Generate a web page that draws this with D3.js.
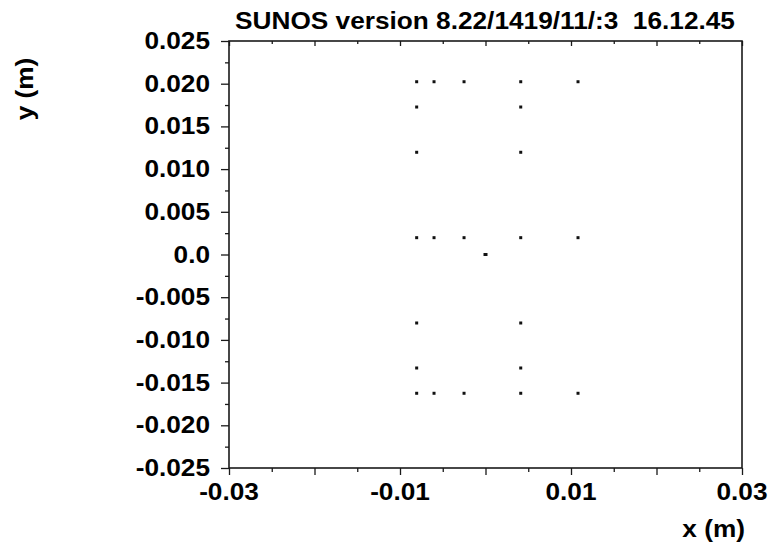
<!DOCTYPE html>
<html>
<head>
<meta charset="utf-8">
<script src="https://cdn.jsdelivr.net/npm/d3@7"></script>
<style>
  html, body { margin: 0; padding: 0; background: #fff; }
  svg text { font-family: "Liberation Sans", Arial, Helvetica, sans-serif; font-weight: bold; fill: #000; white-space: pre; }
</style>
</head>
<body>
<svg id="chart" width="770" height="544"></svg>
<script>
// Hit positions (m)
const xs = [-0.00805, -0.00602, -0.00251, 0.00412, 0.01082,
            -0.00805, 0.00412,
            -0.00805, 0.00412,
            -0.00805, -0.00602, -0.00251, 0.00412, 0.01082,
            0.0,
            -0.00805, 0.00412,
            -0.00805, 0.00412,
            -0.00805, -0.00602, -0.00251, 0.00412, 0.01082];
const ys = [0.02023, 0.02023, 0.02023, 0.02023, 0.02023,
            0.01727, 0.01727,
            0.01197, 0.01197,
            0.00197, 0.00197, 0.00197, 0.00197, 0.00197,
            0.0,
            -0.00802, -0.00802,
            -0.01329, -0.01329,
            -0.01625, -0.01625, -0.01625, -0.01625, -0.01625];
// the origin hit is drawn slightly larger
const sizes = [1,1,1,1,1, 1,1, 1,1, 1,1,1,1,1, 2, 1,1, 1,1, 1,1,1,1,1];

const xDomain = [-0.03, 0.03];
const yDomain = [-0.025, 0.025];
const xLabelTicks = [-0.03, -0.01, 0.01, 0.03];
const xLabelText = ["-0.03", "-0.01", "0.01", "0.03"];
const xMajorTicks = [-0.03, -0.02, -0.01, 0, 0.01, 0.02, 0.03];
const xMinorTicks = [-0.025, -0.015, -0.005, 0.005, 0.015, 0.025];
const yLabelTicks = [0.025, 0.02, 0.015, 0.01, 0.005, 0, -0.005, -0.01, -0.015, -0.02, -0.025];
const yLabelText = ["0.025","0.020","0.015","0.010","0.005","0.0","-0.005","-0.010","-0.015","-0.020","-0.025"];
const yMinorTicks = [0.0225, 0.0175, 0.0125, 0.0075, 0.0025, -0.0025, -0.0075, -0.0125, -0.0175, -0.0225];

const titleText = "SUNOS version 8.22/1419/11/:3  16.12.45";
const xTitle = "x (m)";
const yTitle = "y (m)";

const L = 229, R = 742, T = 41, B = 468;
const FS = 23;          // label font size
const WIDEN = 1.14;     // horizontal stretch of the lettering

const svg = d3.select("#chart");
const x = d3.scaleLinear().domain(xDomain).range([L, R]);
const y = d3.scaleLinear().domain(yDomain).range([B, T]);

const ink = "#1a1a1a";
const noDomain = g => g.select(".domain").remove();
const inkLines = g => g.selectAll("line").attr("stroke", ink).attr("stroke-width", 1.3);

// stretched bold label anchored at (px, py)
function label(parent, px, py, text, anchor, rotate) {
  return parent.append("text")
    .attr("transform", `translate(${px},${py})` + (rotate ? ` rotate(${rotate})` : "") + ` scale(${WIDEN},1)`)
    .attr("text-anchor", anchor)
    .style("font-size", FS + "px")
    .text(text);
}

// bottom axis: major and minor marks hanging below the frame
const bottomAxis = svg.append("g").attr("transform", `translate(0,${B})`);
bottomAxis.call(d3.axisBottom(x).tickValues(xMajorTicks).tickSize(7).tickFormat(""))
  .call(noDomain).call(inkLines);
bottomAxis.append("g").call(d3.axisBottom(x).tickValues(xMinorTicks).tickSize(4).tickFormat(""))
  .call(noDomain).call(inkLines);
xLabelTicks.forEach((d, i) => label(svg, x(d), 500, xLabelText[i], "middle"));

// top axis: small marks hanging inside the frame
const topAxis = svg.append("g").attr("transform", `translate(0,${T})`);
topAxis.call(d3.axisBottom(x).tickValues(xMajorTicks).tickSize(5).tickFormat(""))
  .call(noDomain).call(inkLines);
topAxis.append("g").call(d3.axisBottom(x).tickValues(xMinorTicks).tickSize(3).tickFormat(""))
  .call(noDomain).call(inkLines);

// left axis
const leftAxis = svg.append("g").attr("transform", `translate(${L},0)`);
leftAxis.call(d3.axisLeft(y).tickValues(yLabelTicks).tickSize(8).tickFormat(""))
  .call(noDomain).call(inkLines);
leftAxis.append("g").call(d3.axisLeft(y).tickValues(yMinorTicks).tickSize(4).tickFormat(""))
  .call(noDomain).call(inkLines);
yLabelTicks.forEach((d, i) => label(svg, 210, y(d) + 8, yLabelText[i], "end"));

// frame
svg.append("rect")
  .attr("x", L).attr("y", T).attr("width", R - L).attr("height", B - T)
  .attr("fill", "none").attr("stroke", ink).attr("stroke-width", 1.6);

// hits
svg.append("g").selectAll("rect").data(xs.map((v, i) => ({x: v, y: ys[i], s: sizes[i]})))
  .join("rect")
  .attr("x", d => x(d.x) - (d.s === 2 ? 2 : 1.5))
  .attr("y", d => y(d.y) - 1.5)
  .attr("width", d => d.s === 2 ? 4 : 3)
  .attr("height", 3)
  .attr("fill", "#111");

// titles
label(svg, 485, 29, titleText, "middle");
label(svg, 745, 537, xTitle, "end");
label(svg, 33, 89, yTitle, "middle", -90);
</script>
</body>
</html>
